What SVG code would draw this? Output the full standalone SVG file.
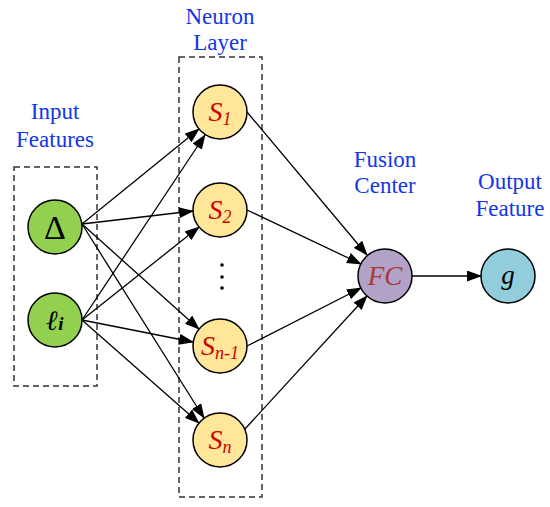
<svg xmlns="http://www.w3.org/2000/svg" width="550" height="507" viewBox="0 0 550 507">
<style>
.lbl{font-family:"Liberation Serif","Times New Roman",serif;font-size:23px;fill:#1236E8;text-anchor:middle}
.box{fill:none;stroke:#333;stroke-width:1.5;stroke-dasharray:6,4}
.nd{stroke:#000;stroke-width:1.5}
.in{fill:#92D050}
.s{fill:#FFE699}
.fc{fill:#B3A2C7}
.out{fill:#92CDDC}
.sym{font-family:"Liberation Serif","Times New Roman",serif;text-anchor:middle;font-style:italic}
.st{font-size:28px;fill:#D00000}
.sub{font-size:18px}
.edge{stroke:#000;stroke-width:1.3;fill:none;marker-end:url(#arr)}
</style>
<defs>
<marker id="arr" markerUnits="userSpaceOnUse" markerWidth="15" markerHeight="11" refX="14" refY="5.5" orient="auto" viewBox="0 0 15 11">
<path d="M0,0 L15,5.5 L0,11 z" fill="#000"/>
</marker>
</defs>
<rect fill="#fff" width="550" height="507"/>
<g id="labels">
<text class="lbl" x="55" y="119">Input</text>
<text class="lbl" x="55" y="147">Features</text>
<text class="lbl" x="220" y="24">Neuron</text>
<text class="lbl" x="220" y="50">Layer</text>
<text class="lbl" x="385" y="167">Fusion</text>
<text class="lbl" x="385" y="193">Center</text>
<text class="lbl" x="510" y="189">Output</text>
<text class="lbl" x="510" y="216">Feature</text>
</g>
<rect class="box" x="14" y="167" width="83" height="219"/>
<rect class="box" x="179" y="57" width="83" height="440"/>
<g id="connectors">
<line class="edge" x1="82" y1="224" x2="199" y2="129"/>
<line class="edge" x1="82" y1="224" x2="193" y2="211"/>
<line class="edge" x1="82" y1="224" x2="199" y2="329"/>
<line class="edge" x1="82" y1="224" x2="204" y2="418"/>
<line class="edge" x1="82" y1="320" x2="205" y2="135"/>
<line class="edge" x1="82" y1="320" x2="199" y2="227"/>
<line class="edge" x1="82" y1="320" x2="193" y2="342"/>
<line class="edge" x1="82" y1="320" x2="199" y2="423"/>
<line class="edge" x1="247" y1="112" x2="367" y2="255"/>
<line class="edge" x1="247" y1="210" x2="361" y2="264"/>
<line class="edge" x1="247" y1="346" x2="361" y2="288"/>
<line class="edge" x1="244" y1="430" x2="367" y2="296"/>
<line class="edge" x1="412" y1="276" x2="481" y2="276"/>
</g>
<g id="delta">
<circle class="nd in" cx="55" cy="227" r="27"/>
<text class="sym" x="55" y="239" style="font-style:normal;font-size:34px">Δ</text>
</g>
<g id="li">
<circle class="nd in" cx="55" cy="320" r="27"/>
<text class="sym" x="55" y="330" style="font-size:28px;font-weight:bold">ℓ<tspan style="font-size:19px">i</tspan></text>
</g>
<g id="s1">
<circle class="nd s" cx="220" cy="112" r="27"/>
<text class="sym st" x="220" y="121">S<tspan class="sub" dy="4">1</tspan></text>
</g>
<g id="s2">
<circle class="nd s" cx="220" cy="210" r="27"/>
<text class="sym st" x="220" y="219">S<tspan class="sub" dy="4">2</tspan></text>
</g>
<g id="dots">
<circle cx="222" cy="265" r="1.8" fill="#000"/>
<circle cx="222" cy="277" r="1.8" fill="#000"/>
<circle cx="222" cy="288" r="1.8" fill="#000"/>
</g>
<g id="sn1">
<circle class="nd s" cx="220" cy="346" r="27"/>
<text class="sym st" x="220" y="355">S<tspan class="sub" dy="4">n-1</tspan></text>
</g>
<g id="sn">
<circle class="nd s" cx="220" cy="440" r="27"/>
<text class="sym st" x="220" y="449">S<tspan class="sub" dy="4">n</tspan></text>
</g>
<g id="fc">
<circle class="nd fc" cx="385" cy="276" r="27"/>
<text class="sym" x="385" y="285" style="font-size:27px;fill:#A83A3A">FC</text>
</g>
<g id="g">
<circle class="nd out" cx="508" cy="276" r="27"/>
<text class="sym" x="508" y="284" style="font-size:27px;fill:#000">g</text>
</g>
</svg>
